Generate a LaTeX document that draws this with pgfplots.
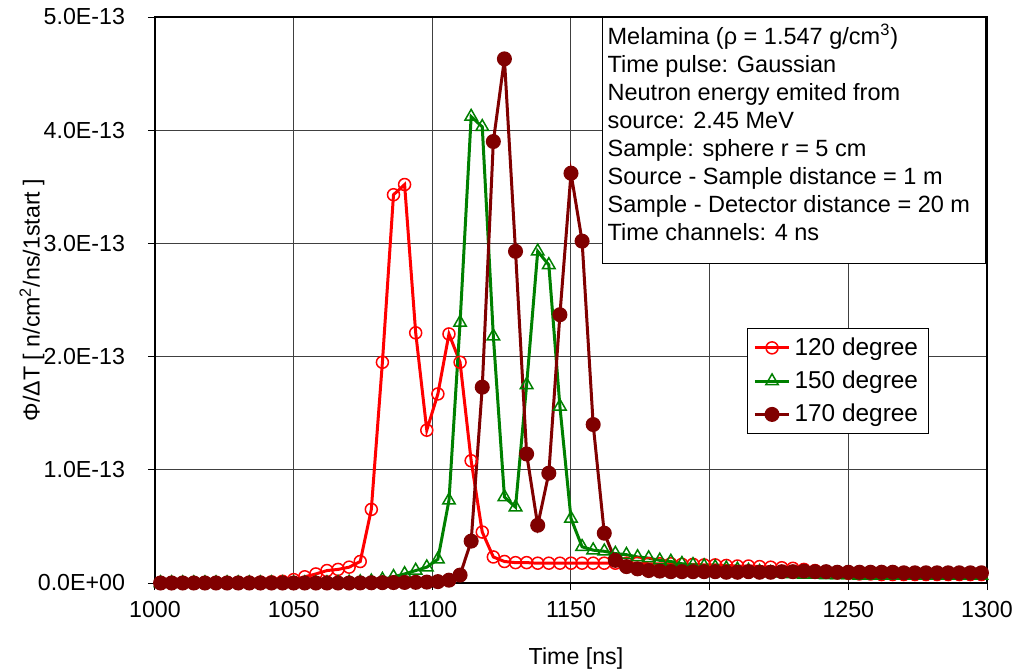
\documentclass[border=0pt]{standalone}
\usepackage{pgfplots}
\pgfplotsset{compat=1.18}
\usepackage{pgfplotstable}
\usepackage{fontspec}
\setmainfont{Liberation Sans}
\definecolor{cRed}{RGB}{255,0,0}
\definecolor{cGreen}{RGB}{0,128,0}
\definecolor{cDark}{RGB}{128,0,0}
\pgfplotstableread{
x r g d
1002 0.005 0.0 0.0
1006 0.005 0.0 0.0
1010 0.005 0.0 0.0
1014 0.005 0.0 0.0
1018 0.005 0.0 0.0
1022 0.005 0.0 0.0
1026 0.005 0.0 0.0
1030 0.006 0.0 0.0
1034 0.007 0.0 0.0
1038 0.008 0.0 0.0
1042 0.01 0.0 0.0
1046 0.015 0.0 0.0
1050 0.03 0.0 0.0
1054 0.055 0.0 0.0
1058 0.08 0.0 0.0
1062 0.11 0.0 0.0
1066 0.12 0.002 0.0
1070 0.14 0.005 0.0
1074 0.19 0.008 0.001
1078 0.65 0.015 0.002
1082 1.95 0.03 0.003
1086 3.43 0.055 0.004
1090 3.52 0.08 0.005
1094 2.21 0.11 0.006
1098 1.35 0.14 0.008
1102 1.67 0.21 0.012
1106 2.20 0.73 0.025
1110 1.95 2.30 0.07
1114 1.08 4.12 0.37
1118 0.45 4.03 1.73
1122 0.23 2.18 3.90
1126 0.19 0.76 4.63
1130 0.18 0.67 2.93
1134 0.18 1.75 1.14
1138 0.175 2.93 0.51
1142 0.175 2.81 0.97
1146 0.175 1.56 2.37
1150 0.175 0.57 3.62
1154 0.175 0.32 3.02
1158 0.175 0.29 1.40
1162 0.175 0.28 0.44
1166 0.175 0.26 0.20
1170 0.175 0.25 0.145
1174 0.175 0.23 0.125
1178 0.17 0.22 0.11
1182 0.17 0.20 0.105
1186 0.17 0.19 0.10
1190 0.165 0.17 0.10
1194 0.165 0.16 0.10
1198 0.16 0.15 0.10
1202 0.16 0.14 0.10
1206 0.155 0.13 0.095
1210 0.15 0.12 0.095
1214 0.15 0.11 0.10
1218 0.145 0.10 0.095
1222 0.14 0.09 0.095
1226 0.135 0.085 0.10
1230 0.13 0.08 0.10
1234 0.12 0.075 0.105
1238 0.11 0.075 0.10
1242 0.10 0.07 0.10
1246 0.09 0.07 0.095
1250 0.085 0.07 0.095
1254 0.08 0.065 0.095
1258 0.08 0.065 0.095
1262 0.075 0.065 0.095
1266 0.075 0.065 0.095
1270 0.075 0.065 0.09
1274 0.075 0.065 0.09
1278 0.075 0.065 0.09
1282 0.075 0.065 0.09
1286 0.075 0.065 0.09
1290 0.075 0.065 0.09
1294 0.075 0.065 0.09
1298 0.075 0.065 0.09
}\datatable
\begin{document}
\begin{tikzpicture}
\begin{axis}[
  name=ax, at={(0,0)}, anchor=south west,
  scale only axis, width=416pt, height=283pt,
  xmin=1000, xmax=1300, ymin=0, ymax=5,
  xtick={1000,1050,...,1300},
  ytick={0,1,2,3,4,5},
  yticklabels={0.0E+00,1.0E-13,2.0E-13,3.0E-13,4.0E-13,5.0E-13},
  /pgf/number format/assume math mode=true,
  /pgf/number format/set thousands separator={},
  tick label style={font=\fontsize{11.6}{13}\selectfont},
  label style={font=\fontsize{11.6}{13}\selectfont},
  tick align=outside, major tick length=3.5pt,
  tick style={black, line width=0.5pt},
  xtick pos=bottom, ytick pos=left,
  grid=major, major grid style={black!75, line width=0.5pt},
  axis line style={black, line width=0.6pt},
  xlabel={Time [ns]},
  ylabel={Φ/ΔT [ n/cm\textsuperscript{2}/ns/1start ]},
  xlabel style={at={(axis description cs:0.506,-0.1325)}, anchor=center},
  ylabel style={at={(axis description cs:-0.1478,0.5)}, anchor=center},
  yticklabel style={xshift=-8pt},
  xticklabel style={yshift=-2pt},
  legend style={at={(axis description cs:0.7115,0.4505)}, anchor=north west,
    draw=black, line width=0.5pt, fill=white, font=\fontsize{12.2}{14}\selectfont,
    row sep=2.3pt, inner xsep=3pt, inner ysep=2.5pt, cells={anchor=west}},
  legend cell align=left,
]
\addplot[cRed, line width=1.5pt, mark=o, mark size=3pt, mark options={line width=0.75pt, fill=none}] table[x=x, y=r] {\datatable};
\addlegendentry{120 degree}
\addplot[cGreen, line width=1.5pt, mark=triangle, mark size=3.6pt, mark options={line width=0.75pt, fill=none}] table[x=x, y=g] {\datatable};
\addlegendentry{150 degree}
\addplot[cDark, line width=1.5pt, mark=*, mark size=3pt, mark options={fill=cDark, draw=cDark}] table[x=x, y=d] {\datatable};
\addlegendentry{170 degree}
\node[draw=black, line width=0.6pt, fill=white, anchor=north west, inner sep=0pt] at (axis description cs:0.5373,1.0)
 {\begin{minipage}[t][123pt][t]{191.5pt}\fontsize{11.75}{14}\selectfont\raggedright\leftskip=2.5pt
  \rule{0pt}{13.5pt}Melamina (ρ = 1.547 g/cm\textsuperscript{3})\\
  Time pulse: Gaussian\\
  Neutron energy emited from\\
  source: 2.45 MeV\\
  Sample: sphere r = 5 cm\\
  Source - Sample distance = 1 m\\
  Sample - Detector distance = 20 m\\
  Time channels: 4 ns
 \end{minipage}};
\end{axis}
\pgfresetboundingbox
\path (-77.5pt,-44pt) rectangle (431.5pt,291.5pt);
\end{tikzpicture}
\end{document}
